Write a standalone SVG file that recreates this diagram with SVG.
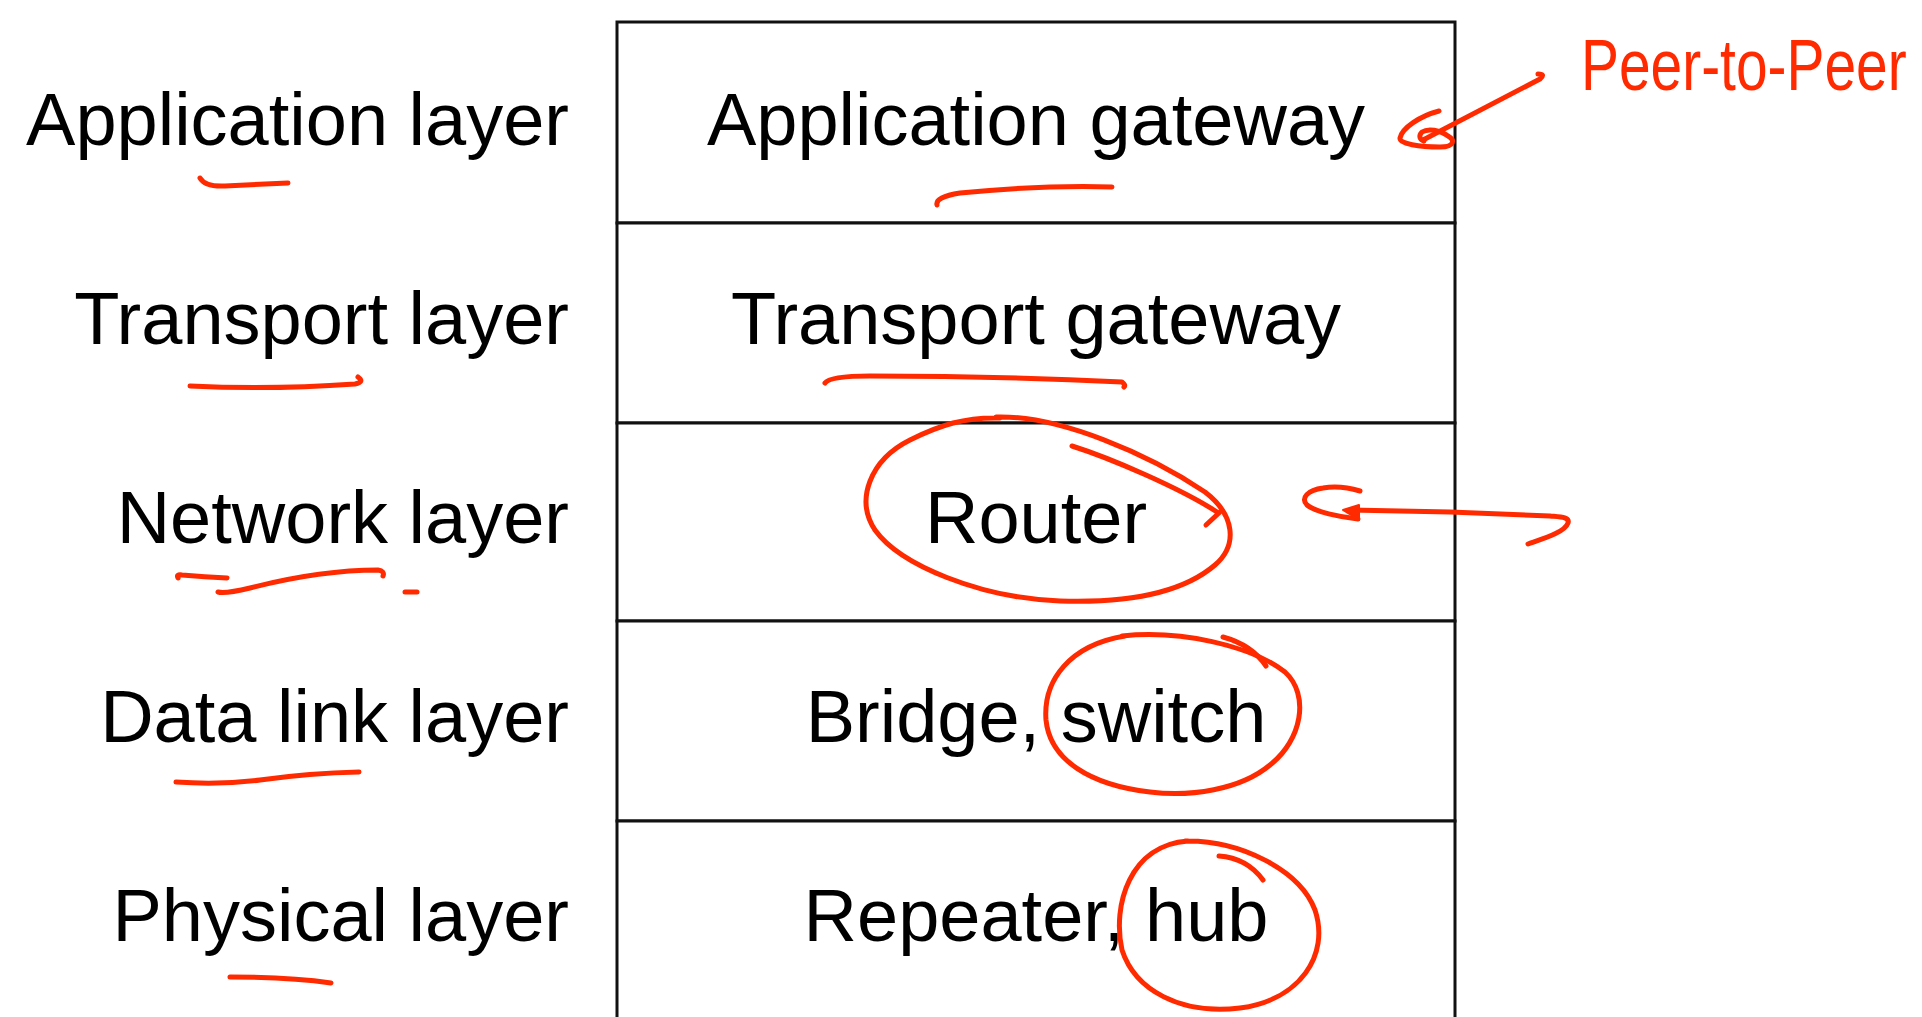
<svg xmlns="http://www.w3.org/2000/svg" width="1922" height="1017" viewBox="0 0 1922 1017">
  <style>
    .label { font-family: "Liberation Sans", Arial, Helvetica, sans-serif; font-size: 74px; fill: #000; }
    .side { text-anchor: end; }
    .mid { text-anchor: middle; }
    .cell { fill: #fff; stroke: #111; stroke-width: 3; }
    .ink { fill: none; stroke: #ff2a00; stroke-width: 5; stroke-linecap: round; stroke-linejoin: round; }
    .inkfill { fill: #ff2a00; stroke: #ff2a00; stroke-width: 2; stroke-linejoin: round; }
    .hand { font-family: "Liberation Sans", Arial, sans-serif; font-size: 72px; fill: #ff2a00; }
  </style>

  <rect width="1922" height="1017" fill="#fff"/>

  <!-- OSI layers with the devices that operate at each one -->
  <g id="layer-application">
    <rect class="cell" x="617" y="22" width="838" height="201"/>
    <text class="label side" x="569" y="145">Application layer</text>
    <text class="label mid" x="1036" y="145">Application gateway</text>
  </g>
  <g id="layer-transport">
    <rect class="cell" x="617" y="223" width="838" height="200"/>
    <text class="label side" x="569" y="344">Transport layer</text>
    <text class="label mid" x="1036" y="344">Transport gateway</text>
  </g>
  <g id="layer-network">
    <rect class="cell" x="617" y="423" width="838" height="198"/>
    <text class="label side" x="569" y="543">Network layer</text>
    <text class="label mid" x="1036" y="543">Router</text>
  </g>
  <g id="layer-datalink">
    <rect class="cell" x="617" y="621" width="838" height="200"/>
    <text class="label side" x="569" y="742">Data link layer</text>
    <text class="label mid" x="1036" y="742">Bridge, switch</text>
  </g>
  <g id="layer-physical">
    <rect class="cell" x="617" y="821" width="838" height="200"/>
    <text class="label side" x="569" y="941">Physical layer</text>
    <text class="label mid" x="1036" y="941">Repeater, hub</text>
  </g>

  <!-- handwritten underlines -->
  <g id="underlines">
    <path class="ink" d="M200,178 Q205,187 225,186 L288,183"/>
    <path class="ink" d="M190,386 Q270,390 355,384 Q365,382 358,377"/>
    <path class="ink" d="M937,205 Q935,197 960,193 Q1040,185 1112,187"/>
    <path class="ink" d="M825,383 Q830,376 870,376 Q1000,376 1122,382 Q1126,385 1124,387"/>
    <path class="ink" d="M178,578 Q176,574 182,575 Q205,577 227,578"/>
    <path class="ink" d="M218,592 Q225,594 250,588 Q320,570 378,570 Q385,571 383,576"/>
    <path class="ink" d="M405,592 L417,592"/>
    <path class="ink" d="M176,782 Q220,785 260,780 Q310,773 359,772"/>
    <path class="ink" d="M230,977 Q290,977 331,983"/>
  </g>

  <!-- handwritten circles round the devices -->
  <g id="circles">
    <path class="ink" d="M996,417 C1060,415 1150,455 1205,492 C1235,515 1238,545 1215,565 C1180,595 1120,603 1060,601 C980,598 900,565 875,530 C855,500 870,460 910,440 C940,425 965,417 1000,418"/>
    <path class="ink" d="M1072,446 C1110,458 1180,488 1217,512"/>
    <path class="ink" d="M1206,525 L1220,512"/>
    <path class="ink" d="M1122,636 C1180,630 1250,645 1285,672 C1310,695 1302,740 1270,765 C1240,790 1190,797 1150,792 C1090,785 1050,760 1046,720 C1043,680 1070,645 1125,636"/>
    <path class="ink" d="M1223,637 Q1252,645 1266,666"/>
    <path class="ink" d="M1185,841 C1240,840 1300,870 1315,910 C1330,955 1300,1000 1240,1008 C1180,1015 1135,990 1122,950 C1112,905 1130,845 1188,841"/>
    <path class="ink" d="M1219,856 Q1247,858 1263,880"/>
  </g>

  <!-- handwritten note, narrowed to the width of the pen writing -->
  <text class="hand" transform="translate(1581,90) scale(0.79,1)">Peer-to-Peer</text>

  <!-- handwritten arrows -->
  <g id="connectors">
    <path class="ink" d="M1538,74 Q1546,74 1540,79 L1423,140"/>
    <path class="ink" d="M1439,111 C1420,116 1402,128 1400,138 C1399,144 1420,147 1440,147 C1455,147 1455,140 1448,136 C1440,130 1428,128 1422,132 C1418,136 1420,140 1424,141"/>
    <path class="ink" d="M1528,544 C1545,538 1565,532 1568,523 C1570,517 1560,517 1550,516 L1450,512 L1350,510"/>
    <path class="ink" d="M1358,519 C1340,517 1315,512 1307,505 C1300,498 1308,490 1323,488 C1335,486 1350,488 1360,491"/>
    <path class="inkfill" d="M1343,510 L1359,505 L1359,520 Z"/>
  </g>
</svg>
